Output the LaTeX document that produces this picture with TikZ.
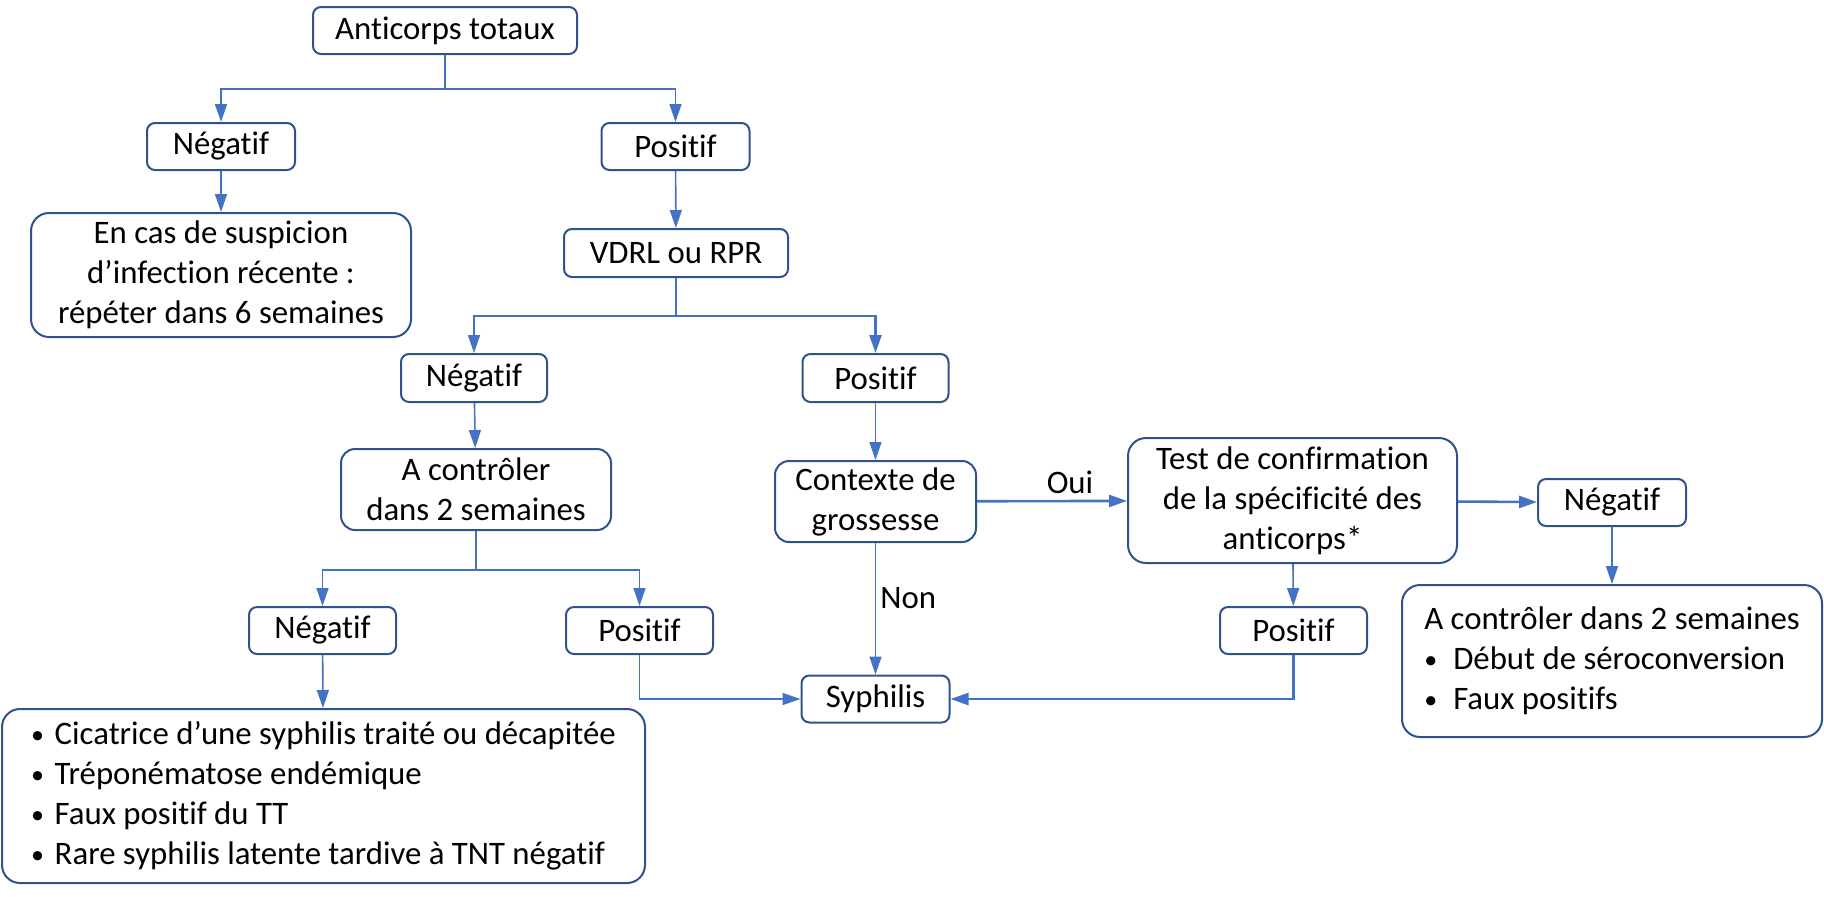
\documentclass[tikz,border=0pt]{standalone}
\usepackage{fontspec}
\setmainfont{Carlito}[Ligatures=NoCommon]
\usetikzlibrary{arrows.meta}
\definecolor{boxblue}{HTML}{2F528F}
\definecolor{linkblue}{HTML}{4472C4}
\newcommand{\bul}[1][11.75pt]{\makebox[#1][l]{\raisebox{0.4pt}{\fontsize{13}{13}\selectfont•}}}

\begin{document}
\begin{tikzpicture}[x=0.5pt, y=-0.5pt,
  every node/.style={font=\fontsize{16.4}{20}\selectfont},
  box/.style={draw=boxblue, line width=1pt, rounded corners=4pt, align=center, inner sep=0pt},
  bigbox/.style={box, rounded corners=9pt},
  link/.style={->, draw=linkblue, line width=0.8pt},
  thicklink/.style={link, line width=1.3pt},
  >={Triangle[length=9pt,width=6pt]}]
\useasboundingbox (0,0) rectangle (1824,896);
% Draw boxes
\node[box, minimum width=132pt, minimum height=23.5pt] (anti) at (445,30.5) {Anticorps totaux};
\node[box, minimum width=74pt, minimum height=23.5pt] (neg1) at (221,146.5) {Négatif};
\node[box, minimum width=74pt, minimum height=23.5pt] (pos1) at (675.5,146.5) {Positif};
\node[bigbox, minimum width=190pt, minimum height=62pt] (encas) at (221,275) {En cas de suspicion\\d’infection récente :\\répéter dans 6 semaines};
\node[box, minimum width=112pt, minimum height=24pt] (vdrl) at (676,253) {VDRL ou RPR};
\node[box, minimum width=73pt, minimum height=24pt] (neg2) at (474,378) {Négatif};
\node[box, minimum width=73pt, minimum height=24pt] (pos2) at (875.5,378) {Positif};
\node[box, rounded corners=7pt, minimum width=135pt, minimum height=40.5pt] (actrl) at (476,489.5) {A contrôler\\dans 2 semaines};
\node[box, rounded corners=7pt, minimum width=100.5pt, minimum height=40.5pt] (ctx) at (875.5,501.5) {Contexte de\\grossesse};
\node[bigbox, minimum width=164.5pt, minimum height=62.5pt] (test) at (1292.5,500.5) {Test de confirmation\\de la spécificité des\\anticorps*};
\node[box, minimum width=74pt, minimum height=23.5pt] (neg4) at (1612,502.5) {Négatif};
\node[box, minimum width=73.5pt, minimum height=23.5pt] (neg3) at (322.5,630.5) {Négatif};
\node[box, minimum width=73.5pt, minimum height=23.5pt] (pos3) at (639.5,630.5) {Positif};
\node[box, minimum width=73.5pt, minimum height=23.5pt] (pos4) at (1293.5,630.5) {Positif};
\node[box, minimum width=74pt, minimum height=23.5pt] (syph) at (875.5,699) {Syphilis};
\node[bigbox, minimum width=321.5pt, minimum height=87pt, align=left] (liste) at (323.5,796)
  {\bul Cicatrice d’une syphilis traité ou décapitée\\\bul Tréponématose endémique\\\bul Faux positif du TT\\\bul Rare syphilis latente tardive à TNT négatif};
\node[bigbox, minimum width=210pt, minimum height=76pt, align=left] (ctrl2) at (1612,661)
  {A contrôler dans 2 semaines\\\bul[14.5pt]Début de séroconversion\\\bul[14.5pt]Faux positifs};
% Draw arrows
\draw[link] (anti.south) -- ++(0,34) -| (neg1.north);
\draw[link] (anti.south) -- ++(0,34) -| (pos1.north);
\draw[link] (neg1) -- (encas);
\draw[link] (pos1) -- (vdrl);
\draw[link] (vdrl.south) -- ++(0,38) -| (neg2.north);
\draw[thicklink] (vdrl.south) -- ++(0,38) -| (pos2.north);
\draw[link] (neg2) -- (actrl);
\draw[link] (actrl.south) -- ++(0,39) -| (neg3.north);
\draw[link] (actrl.south) -- ++(0,39) -| (pos3.north);
\draw[link] (neg3) -- (liste);
\draw[link] (pos2) -- (ctx);
\draw[link] (ctx) -- node[right, pos=0.42, inner sep=2pt] {Non} (syph);
\draw[link] (pos3.south) |- (syph.west);
\draw[thicklink] (pos4.south) |- (syph.east);
\draw[thicklink] (ctx) -- node[above, pos=0.62, inner sep=3pt] {Oui} (test);
\draw[thicklink] (test) -- (neg4);
\draw[link] (test) -- (pos4);
\draw[link] (neg4) -- (ctrl2);
\end{tikzpicture}
\end{document}
